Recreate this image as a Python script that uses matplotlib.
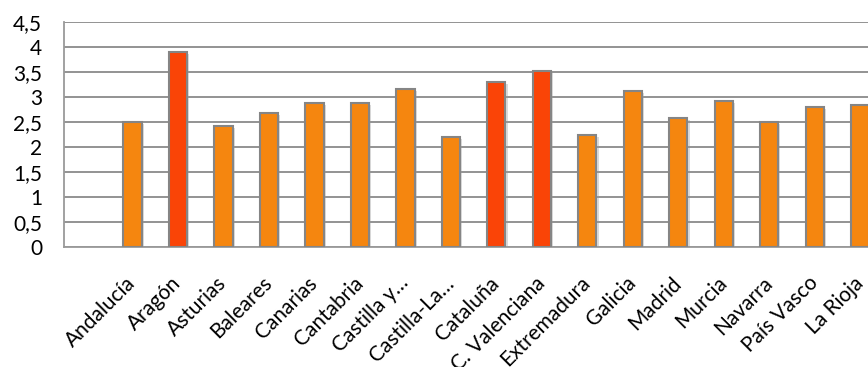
import matplotlib
matplotlib.use("Agg")
import matplotlib.pyplot as plt
import matplotlib.patheffects as pe

# data
regions = ["Andalucía", "Aragón", "Asturias", "Baleares", "Canarias", "Cantabria",
           "Castilla y…", "Castilla-La…", "Cataluña", "C. Valenciana", "Extremadura",
           "Galicia", "Madrid", "Murcia", "Navarra", "País Vasco", "La Rioja"]
values = [2.5, 3.89, 2.41, 2.67, 2.87, 2.87, 3.15, 2.2, 3.3, 3.52, 2.23,
          3.12, 2.57, 2.92, 2.49, 2.79, 2.83]
highlight = ["Aragón", "Cataluña", "C. Valenciana"]
yticks = [0, 0.5, 1, 1.5, 2, 2.5, 3, 3.5, 4, 4.5]

orange = "#F5860F"
red = "#FA4407"
edge = "#858585"

plt.rcParams["font.family"] = ["Lato", "DejaVu Sans"]

fig = plt.figure(figsize=(8.68, 3.67), dpi=100)
ax = fig.add_axes([64.3 / 868, (367 - 246.7) / 367, (883 - 64.3) / 868, 225 / 367])

colors = [red if r in highlight else orange for r in regions]
x = list(range(len(regions)))
bars = ax.bar(x, values, width=0.4, color=colors, edgecolor=edge, linewidth=1.5, zorder=3)
for b in bars:
    b.set_path_effects([pe.SimplePatchShadow(offset=(1.5, -1.5), shadow_rgbFace="#999999", alpha=0.35), pe.Normal()])

ax.set_xlim(-1.5, 16.5)
ax.set_ylim(0, 4.5)
ax.set_yticks(yticks)
ax.set_yticklabels([f"{t:g}".replace(".", ",") for t in yticks], fontsize=15)
ax.yaxis.grid(True, color="#8a8a8a", linewidth=1.3, zorder=0)
ax.set_axisbelow(True)

ax.set_xticks(x)
ax.set_xticklabels(regions, rotation=45, ha="right", va="center", rotation_mode="anchor", fontsize=15)
ax.tick_params(axis="both", length=0)
ax.tick_params(axis="y", pad=16)
ax.tick_params(axis="x", pad=24)

for s in ["top", "right"]:
    ax.spines[s].set_visible(False)
for s in ["left", "bottom"]:
    ax.spines[s].set_color("#9a9a9a")
    ax.spines[s].set_linewidth(1.3)

fig.savefig("out.png", dpi=100)
